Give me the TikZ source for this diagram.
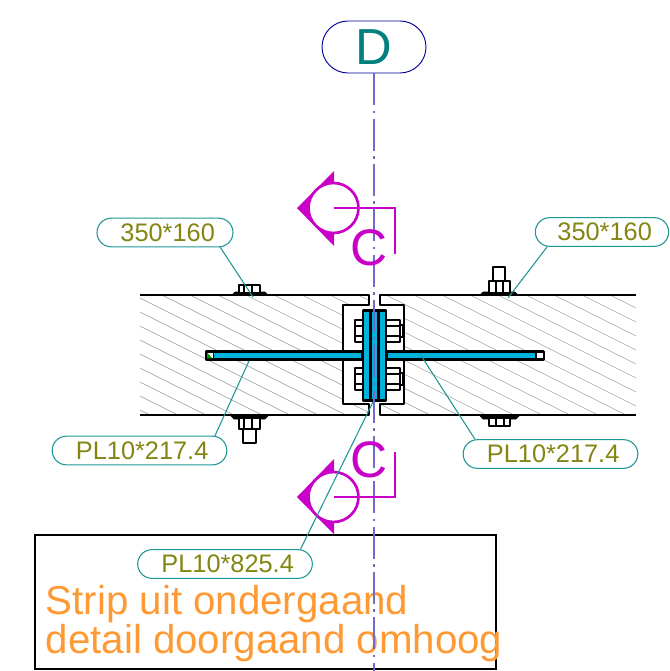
\documentclass[tikz,border=0pt]{standalone}
\usepackage{fontspec}
\setmainfont{Liberation Sans}
\usetikzlibrary{shapes.misc}
\definecolor{leadc}{RGB}{30,150,150}
\definecolor{olivec}{RGB}{133,133,20}
\definecolor{tealc}{RGB}{0,128,128}
\definecolor{magc}{RGB}{200,0,200}
\definecolor{bluec}{RGB}{0,178,220}
\definecolor{axisc}{RGB}{115,105,205}
\definecolor{orangec}{RGB}{255,153,51}
\newcommand\tagtext[1]{\hspace*{4pt}\raisebox{-1.3pt}{#1}}
\tikzset{
 steel/.style={draw=black,line width=1.8pt,line join=round},
 plate/.style={draw=black,fill=bluec,line width=2pt,line join=round},
 thin steel/.style={draw=black,line width=1.5pt,line join=round},
 inner line/.style={draw=black,line width=1.1pt},
 hatchline/.style={draw=black!35,line width=0.5pt},
 leader/.style={draw=leadc,line width=0.8pt},
 tag/.style={rounded rectangle,draw=leadc,fill=white,line width=0.8pt,text=olivec,font=\fontsize{19}{20}\selectfont,inner sep=0pt,minimum height=21.5pt},
 sect/.style={draw=magc,line width=2pt},
 sectfill/.style={fill=magc},
 sectcircle/.style={circle,draw=magc,fill=white,line width=2pt,minimum size=37.5pt,inner sep=0pt},
 sectlabel/.style={text=magc,font=\fontsize{38.5}{40}\selectfont,inner sep=0pt},
 axisline/.style={draw=axisc,line width=0.8pt,dash pattern=on 24pt off 4pt on 2pt off 4pt},
 remark/.style={anchor=base west,inner sep=0pt,text=orangec,font=\fontsize{30.2}{30}\selectfont},
}
\begin{document}
\begin{tikzpicture}[x=0.75pt,y=-0.75pt]
\useasboundingbox (0,0) rectangle (669,671);
% hatching
\begin{scope}
\clip (140,295) -- (369,295) -- (369,305) -- (343,305) -- (343,404) -- (369,404) -- (369,415) -- (140,415) -- cycle
      (380,295) -- (636,295) -- (636,415) -- (380,415) -- (380,404) -- (404,404) -- (404,305) -- (380,305) -- cycle;
\foreach \x in {-250,-222,...,650}
  \draw[hatchline] (\x,285) -- ++(300,150);
\end{scope}
% long plates
\draw[plate] (206,351.3) rectangle (362,359.7);
\draw[plate] (387,351.3) rectangle (543.5,359.7);
\fill[white] (207,352.6) rectangle (212.5,358.4);
\fill[green!60!black] (207,352.6) -- (212.5,358.4) -- (207,358.4) -- cycle;
\fill[white] (536,352.6) rectangle (542.5,358.4);
\draw[line width=1.2pt] (213.5,351) -- (213.5,360) (536,351) -- (536,360);
% flanges
\draw[steel] (140,295) -- (369,295) -- (369,305) -- (343,305) -- (343,350);
\draw[steel] (343,361) -- (343,404) -- (369,404) -- (369,415) -- (140,415);
\draw[steel] (636,295) -- (380,295) -- (380,305) -- (404,305) -- (404,350);
\draw[steel] (404,361) -- (404,404) -- (380,404) -- (380,415) -- (636,415);
% central bolts
\foreach \y in {320,368}{
 \draw[thin steel,fill=white] (362,\y) -- (355,\y) -- (355,\y+22) -- (362,\y+22);
 \draw[inner line] (355,\y+6) -- (362,\y+6) (355,\y+16) -- (362,\y+16);
 \draw[thin steel,fill=white] (387,\y+5) -- (403,\y+5) -- (403,\y+17) -- (387,\y+17);
 \draw[thin steel,fill=white] (387,\y) -- (400,\y) -- (400,\y+22) -- (387,\y+22);
 \draw[inner line] (387,\y+6) -- (400,\y+6) (387,\y+16) -- (400,\y+16);
}
% end plates
\draw[plate] (363,310.5) rectangle (370.7,400.5);
\draw[plate] (370.7,310.5) rectangle (378.7,400.5);
\draw[plate] (378.7,310.5) rectangle (386,400.5);
% surface bolts
\draw[fill=black] (232,295) -- (235,292) -- (265,292) -- (268,295) -- cycle;
\draw[thin steel,fill=white] (239,292) -- (239,285) -- (260,285) -- (260,292);
\draw[inner line] (244,285) -- (244,292) (252,285) -- (252,292);
\draw[fill=black] (480,295) -- (483,292) -- (515,292) -- (518,295) -- cycle;
\draw[thin steel,fill=white] (493,281) -- (493,267) -- (505,267) -- (505,281);
\draw[thin steel,fill=white] (489,292) -- (489,281) -- (510,281) -- (510,292);
\draw[inner line] (496,281) -- (496,292) (503,281) -- (503,292);
\draw[fill=black] (231,416) -- (268,416) -- (265,419) -- (234,419) -- cycle;
\draw[thin steel,fill=white] (243,429) -- (243,443) -- (256,443) -- (256,429);
\draw[thin steel,fill=white] (239,419) -- (239,429) -- (260,429) -- (260,419);
\draw[inner line] (244,419) -- (244,429) (252,419) -- (252,429);
\draw[fill=black] (480,416) -- (519,416) -- (516,419) -- (483,419) -- cycle;
\draw[thin steel,fill=white] (489,419) -- (489,426) -- (510,426) -- (510,419);
\draw[inner line] (496,419) -- (496,426) (504,419) -- (504,426);
% text box
\node[draw=black,line width=1.8pt,outer sep=0pt,minimum width=345.75pt,minimum height=100.5pt,inner sep=0pt,anchor=north west] (box) at (35,535) {};
\node[remark] (t1) at (45.5,614) {Strip uit ondergaand};
\node[remark] (t2) at (45.5,653) {detail doorgaand omhoog};
% axis
\node[rounded rectangle,draw=blue!60!black,line width=0.7pt,minimum width=78pt,minimum height=39pt,inner sep=0pt,text=tealc,font=\fontsize{38}{40}\selectfont] (D) at (374,47) {D};
\coordinate (axisend) at (374,671);
\draw[axisline] (D) -- (axisend);
% section marks
\coordinate (s1) at (333.5,208);
\fill[sectfill] (297,208) -- (334,171) -- (334,246) -- cycle;
\node[sectcircle] (c1) at (s1) {};
\coordinate (c1a) at (395,208);
\coordinate (c1b) at (395,254);
\draw[sect] (c1.center) -- (c1a) -- (c1b);
\node[sectlabel] (C1) at (369,248) {C};
\coordinate (s2) at (333.5,497);
\fill[sectfill] (297,497) -- (334,459) -- (334,534) -- cycle;
\node[sectcircle] (c2) at (s2) {};
\coordinate (c2a) at (395,497);
\coordinate (c2b) at (395,452);
\draw[sect] (c2.center) -- (c2a) -- (c2b);
\node[sectlabel] (C2) at (369,460) {C};
% tags
\node[tag,minimum width=102pt] (a) at (165,232.5) {\tagtext{350*160}};
\node[tag,minimum width=100pt] (b) at (602,232) {\tagtext{350*160}};
\node[tag,minimum width=131pt] (c) at (139.5,450.5) {\tagtext{PL10*217.4}};
\node[tag,minimum width=131pt] (d) at (550.5,454) {\tagtext{PL10*217.4}};
\node[tag,minimum width=131pt] (e) at (225,564) {\tagtext{PL10*825.4}};
\coordinate (ae) at (253,297);
\coordinate (be) at (508,298);
\coordinate (ce) at (249,361);
\coordinate (de) at (420,354);
\coordinate (ee) at (373,402);
\draw[leader] (a.-15) -- (ae);
\draw[leader] (b.195) -- (be);
\draw[leader] (c.11) -- (ce);
\draw[leader] (d.169) -- (de);
\draw[leader] (e.11) -- (ee);
\end{tikzpicture}
\end{document}
